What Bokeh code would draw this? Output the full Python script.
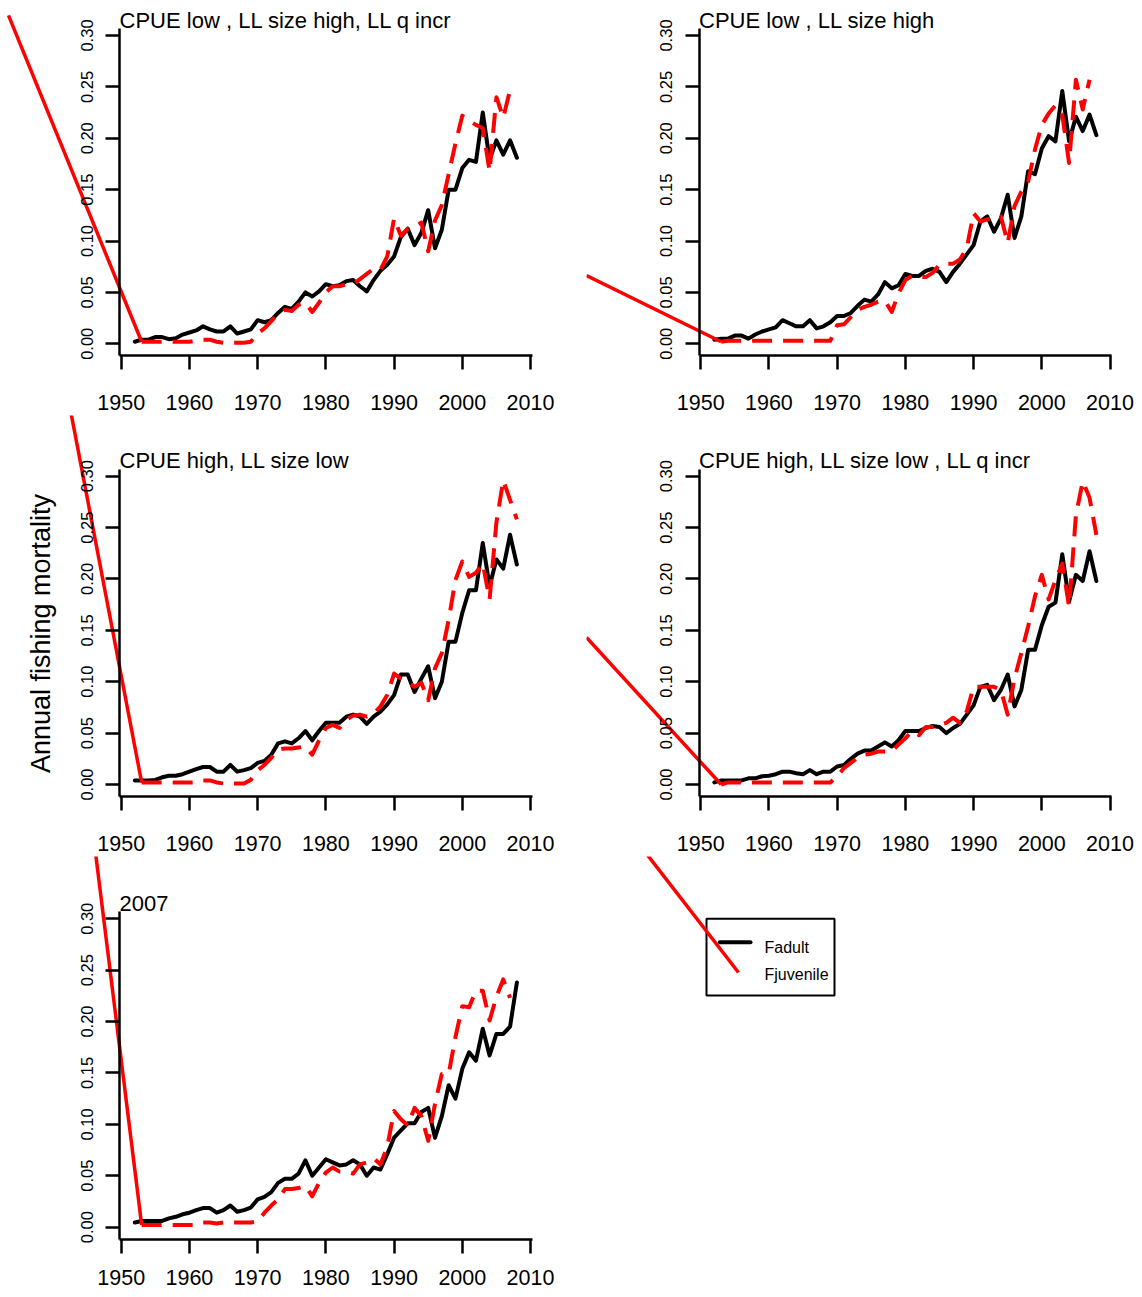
from math import pi
from bokeh.plotting import figure
from bokeh.models import Range1d, FixedTicker, PrintfTickFormatter, Label
from bokeh.layouts import column, row
from bokeh.embed import file_html
from bokeh.resources import INLINE
from bokeh.core.properties import value

FONT = "Liberation Sans"

# ---------------- data ----------------
adult_years = list(range(1952, 2009))

titles = [
    "CPUE low , LL size high, LL q incr",
    "CPUE low , LL size high",
    "CPUE high, LL size low",
    "CPUE high, LL size low , LL q incr",
    "2007",
]

fadult_1 = [0.002, 0.004, 0.004, 0.0065, 0.0065, 0.0045, 0.0055, 0.009, 0.011, 0.013,
            0.017, 0.014, 0.012, 0.012, 0.017, 0.010, 0.012, 0.014, 0.023, 0.021,
            0.023, 0.030, 0.036, 0.034, 0.041, 0.050, 0.046, 0.051, 0.058, 0.056,
            0.057, 0.061, 0.062, 0.056, 0.051, 0.062, 0.071, 0.077, 0.085, 0.104,
            0.112, 0.096, 0.108, 0.130, 0.093, 0.111, 0.150, 0.150, 0.171, 0.179,
            0.177, 0.225, 0.179, 0.198, 0.184, 0.198, 0.181]
fjuv_years_1 = list(range(1953, 2008))
fjuv_1 = [0.002, 0.002, 0.002, 0.002, 0.002, 0.002, 0.002, 0.002, 0.003, 0.004,
          0.004, 0.002, 0.001, 0.001, 0.001, 0.001, 0.002, 0.010, 0.015, 0.022,
          0.029, 0.033, 0.032, 0.038, 0.040, 0.031, 0.040, 0.050, 0.056, 0.056,
          0.058, 0.058, 0.063, 0.068, 0.073, 0.072, 0.085, 0.122, 0.105, 0.112,
          0.114, 0.118, 0.090, 0.120, 0.135, 0.165, 0.195, 0.222, 0.217, 0.213,
          0.210, 0.168, 0.240, 0.220, 0.247]

fadult_2 = [0.004, 0.005, 0.005, 0.008, 0.008, 0.005, 0.009, 0.012, 0.014, 0.016,
            0.023, 0.020, 0.017, 0.017, 0.023, 0.015, 0.017, 0.021, 0.027, 0.027,
            0.030, 0.037, 0.043, 0.041, 0.048, 0.060, 0.054, 0.057, 0.068, 0.066,
            0.066, 0.071, 0.073, 0.070, 0.060, 0.070, 0.078, 0.087, 0.096, 0.119,
            0.124, 0.109, 0.122, 0.145, 0.103, 0.124, 0.168, 0.165, 0.190, 0.202,
            0.197, 0.246, 0.197, 0.221, 0.207, 0.223, 0.203]
fjuv_years_2 = list(range(1953, 2008))
fjuv_2 = [0.002, 0.003, 0.003, 0.003, 0.003, 0.003, 0.003, 0.003, 0.003, 0.003,
          0.003, 0.003, 0.003, 0.003, 0.003, 0.003, 0.003, 0.018, 0.019, 0.026,
          0.033, 0.036, 0.038, 0.041, 0.042, 0.031, 0.049, 0.062, 0.066, 0.065,
          0.065, 0.069, 0.077, 0.078, 0.078, 0.082, 0.093, 0.127, 0.119, 0.121,
          0.122, 0.124, 0.098, 0.134, 0.148, 0.158, 0.189, 0.213, 0.224, 0.232,
          0.223, 0.176, 0.257, 0.228, 0.257]

fadult_3 = [0.004, 0.004, 0.004, 0.0045, 0.007, 0.0085, 0.0085, 0.010, 0.0125, 0.015,
            0.017, 0.017, 0.0125, 0.0125, 0.019, 0.0125, 0.014, 0.016, 0.021, 0.023,
            0.029, 0.040, 0.042, 0.040, 0.045, 0.052, 0.043, 0.052, 0.060, 0.060,
            0.060, 0.066, 0.068, 0.066, 0.059, 0.066, 0.071, 0.078, 0.087, 0.107,
            0.107, 0.090, 0.103, 0.115, 0.084, 0.100, 0.139, 0.139, 0.167, 0.189,
            0.189, 0.235, 0.193, 0.219, 0.210, 0.243, 0.214]
fjuv_years_3 = list(range(1953, 2009))
fjuv_3 = [0.002, 0.002, 0.002, 0.002, 0.002, 0.002, 0.002, 0.002, 0.002, 0.004,
          0.004, 0.002, 0.001, 0.001, 0.001, 0.001, 0.0045, 0.014, 0.019, 0.026,
          0.034, 0.035, 0.035, 0.036, 0.037, 0.029, 0.043, 0.055, 0.058, 0.055,
          0.063, 0.067, 0.068, 0.066, 0.069, 0.076, 0.087, 0.108, 0.103, 0.100,
          0.095, 0.099, 0.082, 0.113, 0.128, 0.160, 0.199, 0.217, 0.202, 0.206,
          0.215, 0.180, 0.255, 0.296, 0.277, 0.258]

fadult_4 = [0.002, 0.004, 0.004, 0.004, 0.004, 0.006, 0.006, 0.008, 0.0085, 0.010,
            0.0125, 0.0125, 0.011, 0.010, 0.014, 0.010, 0.0125, 0.0125, 0.0175, 0.019,
            0.025, 0.030, 0.033, 0.033, 0.037, 0.041, 0.037, 0.043, 0.052, 0.052,
            0.052, 0.055, 0.057, 0.056, 0.050, 0.055, 0.059, 0.068, 0.077, 0.095,
            0.097, 0.082, 0.092, 0.107, 0.076, 0.092, 0.131, 0.131, 0.155, 0.173,
            0.177, 0.224, 0.178, 0.204, 0.198, 0.227, 0.198]
fjuv_years_4 = list(range(1953, 2009))
fjuv_4 = [0.000, 0.002, 0.002, 0.002, 0.002, 0.002, 0.002, 0.002, 0.002, 0.002,
          0.002, 0.002, 0.002, 0.002, 0.002, 0.002, 0.002, 0.008, 0.016, 0.021,
          0.026, 0.029, 0.030, 0.032, 0.032, 0.032, 0.039, 0.045, 0.052, 0.048,
          0.056, 0.056, 0.058, 0.060, 0.065, 0.060, 0.071, 0.095, 0.095, 0.095,
          0.095, 0.092, 0.068, 0.103, 0.128, 0.154, 0.183, 0.204, 0.180, 0.199,
          0.215, 0.173, 0.262, 0.295, 0.279, 0.243]

fadult_5 = [0.0045, 0.006, 0.006, 0.006, 0.006, 0.0085, 0.010, 0.0125, 0.014, 0.0165,
            0.0185, 0.0185, 0.014, 0.0165, 0.021, 0.015, 0.0165, 0.019, 0.027, 0.0295,
            0.034, 0.043, 0.047, 0.047, 0.052, 0.065, 0.050, 0.058, 0.066, 0.063,
            0.060, 0.061, 0.065, 0.061, 0.050, 0.058, 0.056, 0.071, 0.087, 0.094,
            0.101, 0.101, 0.112, 0.116, 0.087, 0.108, 0.138, 0.125, 0.154, 0.170,
            0.162, 0.193, 0.167, 0.188, 0.188, 0.195, 0.238]
fjuv_years_5 = list(range(1953, 2008))
fjuv_5 = [0.002, 0.002, 0.002, 0.002, 0.002, 0.002, 0.002, 0.002, 0.002, 0.0045,
          0.0045, 0.0035, 0.0045, 0.0045, 0.0045, 0.0045, 0.0045, 0.0055, 0.014, 0.021,
          0.027, 0.037, 0.037, 0.038, 0.040, 0.030, 0.043, 0.053, 0.058, 0.054,
          0.054, 0.052, 0.061, 0.063, 0.067, 0.061, 0.078, 0.113, 0.105, 0.099,
          0.116, 0.108, 0.084, 0.120, 0.149, 0.149, 0.185, 0.215, 0.214, 0.230,
          0.230, 0.201, 0.224, 0.241, 0.223]

# stray red segment in each panel (start point, data units), as seen in the picture
stray_x0 = [1933.48, 1933.26, 1942.57, 1933.26, 1946.23]
stray_y0 = [0.3195, 0.0665, 0.364, 0.143, 0.3645]

x_ticks = [1950, 1960, 1970, 1980, 1990, 2000, 2010]
y_ticks = [0.00, 0.05, 0.10, 0.15, 0.20, 0.25, 0.30]
x_lim = (1949.76, 2010.24)
y_lim = (-0.0118, 0.3068)

legend_labels = ["Fadult", "Fjuvenile"]
y_axis_title = "Annual fishing mortality"

# ---------------- layout (pixels) ----------------
COL_X = [0, 586]
COL_W = [586, 554]
ROW_Y = [0, 415, 856]
ROW_H = [415, 441, 440]
PX_PER_YEAR = 6.822
PX_PER_F = 1027.7
X1950 = [120.7, 700.2]          # page x of year 1950 in each column
F0 = [343.3, 784.0, 1226.6]     # page y of F = 0 in each row
TITLE_RAISE = 8.5               # px between frame top and title centre
X_STANDOFF = [25, 25, 17]       # x tick label standoff per row


def ranges(c, r):
    xs = 1950 - (X1950[c] - COL_X[c]) / PX_PER_YEAR
    xe = xs + COL_W[c] / PX_PER_YEAR
    ye = (F0[r] - ROW_Y[r]) / PX_PER_F
    ys = ye - ROW_H[r] / PX_PER_F
    return (xs, xe), (ys, ye)


def make_panel(i, c, r, adult, jyears, juv):
    xr, yr = ranges(c, r)
    p = figure(width=COL_W[c], height=ROW_H[r], output_backend="svg",
               toolbar_location=None, x_range=Range1d(*xr), y_range=Range1d(*yr),
               min_border_left=0, min_border_right=0, min_border_top=0,
               min_border_bottom=0)
    p.outline_line_color = None
    p.grid.visible = False
    p.background_fill_color = "white"
    p.border_fill_color = "white"

    xa = p.xaxis[0]
    xa.fixed_location = y_lim[0]
    xa.bounds = x_lim
    xa.ticker = FixedTicker(ticks=x_ticks)
    xa.major_tick_out = 14
    xa.major_tick_in = 0
    xa.minor_tick_line_color = None
    xa.axis_line_width = 2.5
    xa.major_tick_line_width = 2.5
    xa.axis_line_color = "black"
    xa.major_tick_line_color = "black"
    xa.major_label_text_font = FONT
    xa.major_label_text_font_size = "21.5px"
    xa.major_label_text_color = "black"
    xa.major_label_standoff = X_STANDOFF[r]

    ya = p.yaxis[0]
    ya.fixed_location = x_lim[0]
    ya.bounds = y_lim
    ya.ticker = FixedTicker(ticks=y_ticks)
    ya.formatter = PrintfTickFormatter(format="%.2f")
    ya.major_tick_out = 14
    ya.major_tick_in = 0
    ya.minor_tick_line_color = None
    ya.axis_line_width = 2.5
    ya.major_tick_line_width = 2.5
    ya.axis_line_color = "black"
    ya.major_tick_line_color = "black"
    ya.major_label_text_font = FONT
    ya.major_label_text_font_size = "16.5px"
    ya.major_label_text_color = "black"
    ya.major_label_orientation = "vertical"
    ya.major_label_standoff = 13

    p.line(adult_years, adult, line_color="black", line_width=4,
           line_join="round", line_cap="round")
    p.line(jyears, juv, line_color="red", line_width=4, line_dash="20 11",
           line_join="round", line_cap="butt")
    p.segment(x0=[stray_x0[i]], y0=[stray_y0[i]], x1=[jyears[0]], y1=[juv[0]],
              line_color="red", line_width=3.5)
    p.add_layout(Label(x=x_lim[0], y=y_lim[1] + TITLE_RAISE / PX_PER_F, text=titles[i],
                       text_align="left", text_baseline="middle", text_font=FONT,
                       text_font_size="22px", text_color="black"))
    return p


p1 = make_panel(0, 0, 0, fadult_1, fjuv_years_1, fjuv_1)
p2 = make_panel(1, 1, 0, fadult_2, fjuv_years_2, fjuv_2)
p3 = make_panel(2, 0, 1, fadult_3, fjuv_years_3, fjuv_3)
p4 = make_panel(3, 1, 1, fadult_4, fjuv_years_4, fjuv_4)
p5 = make_panel(4, 0, 2, fadult_5, fjuv_years_5, fjuv_5)

xr3, _ = ranges(0, 1)
p3.add_layout(Label(x=xr3[0] + 40 / PX_PER_YEAR, y=(F0[1] - 633) / PX_PER_F,
                    text=y_axis_title, angle=pi / 2, text_align="center",
                    text_baseline="middle", text_font=FONT, text_font_size="27px",
                    text_color="black"))

# legend cell (pixel coordinates of the cell, y pointing down)
LW, LH = COL_W[1], ROW_H[2]
pl = figure(width=LW, height=LH, output_backend="svg", toolbar_location=None,
            x_range=Range1d(0, LW), y_range=Range1d(LH, 0),
            x_axis_location=None, y_axis_location=None,
            min_border_left=0, min_border_right=0, min_border_top=0, min_border_bottom=0)
pl.outline_line_color = None
pl.grid.visible = False
pl.quad(left=[120], right=[248], top=[62.3], bottom=[139], fill_color=None,
        line_color="black", line_width=2)
pl.line([133.3, 164], [85.7, 85.7], line_color="black", line_width=4, line_cap="round")
pl.line([59, 152], [-4, 116], line_color="red", line_width=3.5)
pl.text(x=[178, 178], y=[91.3, 118], text=legend_labels, text_baseline="middle",
        text_align="left", text_font=value(FONT), text_font_size="16px", text_color="black")

layout = column(row(p1, p2), row(p3, p4), row(p5, pl))
open("out.html", "w").write(file_html(layout, INLINE))
